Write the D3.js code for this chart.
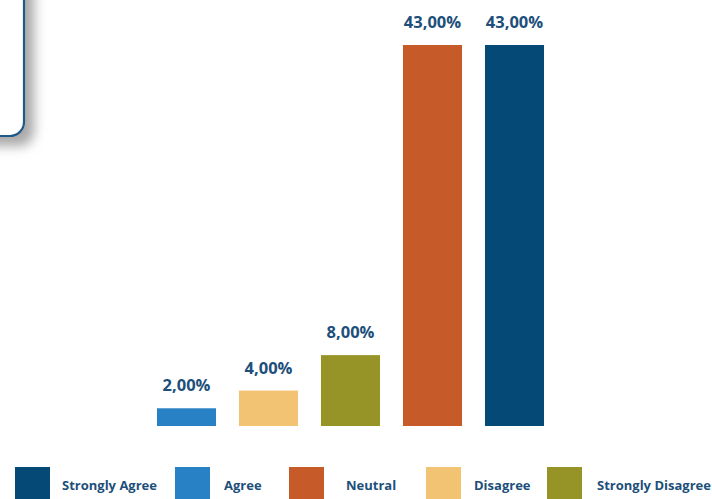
<!DOCTYPE html>
<html>
<head>
<meta charset="utf-8">
<script src="https://cdn.jsdelivr.net/npm/d3@7/dist/d3.min.js"></script>
<style>
  html, body { margin: 0; padding: 0; background: #ffffff; }
  svg { display: block; }
  text { font-family: "Open Sans", Lato, sans-serif; font-weight: 700; fill: #1d4f7b; }
</style>
</head>
<body>
<svg id="chart" width="712" height="499"></svg>
<script>
// Survey responses, bars ordered from smallest to largest share
const categories = ["Agree", "Disagree", "Strongly Disagree", "Neutral", "Strongly Agree"];
const shares = [2, 4, 8, 43, 43];

// Legend order and palette
const legendLabels = ["Strongly Agree", "Agree", "Neutral", "Disagree", "Strongly Disagree"];
const palette = {
  "Strongly Agree": "#054a77",
  "Agree": "#2880c5",
  "Neutral": "#c65a28",
  "Disagree": "#f1c372",
  "Strongly Disagree": "#969427"
};
// Legend layout: swatch left edges and label offsets from each swatch
const legendX = [15, 175, 289, 426, 547];
const legendTextDx = [47, 49, 57, 48, 50];

const svg = d3.select("#chart");

// Drop shadow for the callout panel
const defs = svg.append("defs");
const shadow = defs.append("filter").attr("id", "panelShadow")
  .attr("x", "-50%").attr("y", "-50%").attr("width", "200%").attr("height", "200%");
shadow.append("feDropShadow")
  .attr("dx", 9).attr("dy", 9).attr("stdDeviation", 6)
  .attr("flood-color", "#8a8a8a").attr("flood-opacity", 0.75);

// Callout panel in the upper-left corner
svg.append("rect")
  .attr("x", -200).attr("y", -60)
  .attr("width", 224).attr("height", 196)
  .attr("rx", 14).attr("ry", 14)
  .attr("fill", "#ffffff")
  .attr("stroke", "#1d5a8c").attr("stroke-width", 2.2)
  .attr("filter", "url(#panelShadow)");

const x = d3.scaleBand()
  .domain(categories)
  .range([145.5, 555.5])
  .paddingInner(0.28)
  .paddingOuter(0.14);

const y = d3.scaleLinear()
  .domain([0, 43])
  .range([426, 45]);

const fmt = v => d3.format(".2f")(v).replace(".", ",") + "%";

const bars = svg.append("g");
bars.selectAll("rect")
  .data(categories)
  .join("rect")
  .attr("x", d => x(d))
  .attr("y", (d, i) => y(shares[i]))
  .attr("width", x.bandwidth())
  .attr("height", (d, i) => y(0) - y(shares[i]))
  .attr("fill", d => palette[d]);

bars.selectAll("text")
  .data(categories)
  .join("text")
  .attr("x", d => x(d) + x.bandwidth() / 2)
  .attr("y", (d, i) => y(shares[i]) - 17)
  .attr("text-anchor", "middle")
  .style("font-size", "16.5px")
  .text((d, i) => fmt(shares[i]));

// Legend along the bottom edge
const legend = svg.append("g");
const items = legend.selectAll("g")
  .data(legendLabels)
  .join("g")
  .attr("transform", (d, i) => `translate(${legendX[i]},467)`);
items.append("rect")
  .attr("width", 35).attr("height", 35)
  .attr("fill", d => palette[d]);
items.append("text")
  .attr("x", (d, i) => legendTextDx[i]).attr("y", 23)
  .style("font-size", "13px")
  .text(d => d);
</script>
</body>
</html>
